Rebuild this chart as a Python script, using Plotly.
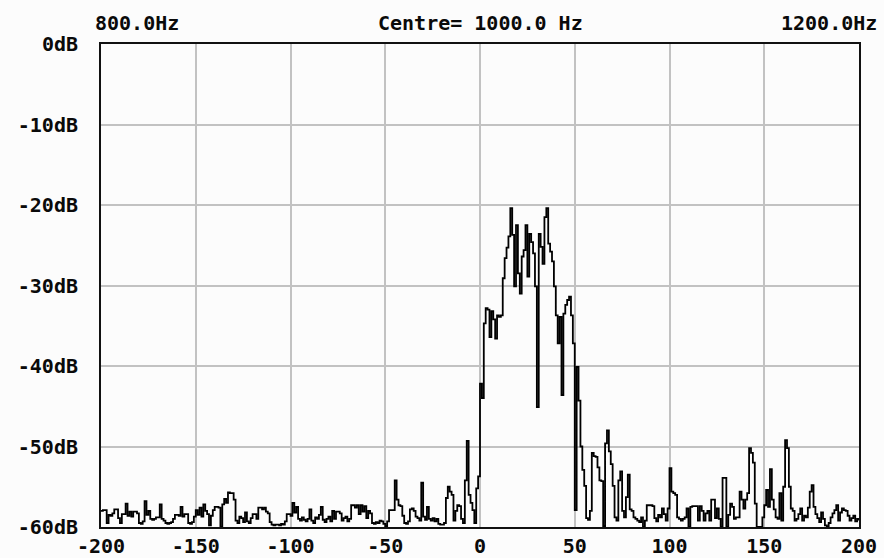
import plotly.graph_objects as go

# Frequency offsets from the 1000 Hz centre (1 Hz bins)
freq_offset_hz = list(range(-200, 201))

# Spectrum level (dB), by frequency range
level_db_m200_m101 = [
    -58.0, -57.9, -57.9, -59.5, -58.5, -58.6, -58.3, -57.8, -57.8, -58.9,
    -59.5, -58.4, -58.4, -57.1, -58.6, -58.1, -58.7, -58.1, -58.1, -58.3,
    -59.5, -59.6, -59.3, -56.8, -58.5, -58.0, -59.0, -59.1, -59.0, -58.8,
    -58.8, -57.2, -59.0, -59.2, -59.5, -59.6, -59.5, -59.4, -59.0, -58.5,
    -58.5, -58.6, -57.5, -58.7, -58.4, -58.4, -59.5, -59.6, -59.4, -58.7,
    -57.9, -58.5, -57.6, -58.7, -57.2, -58.0, -58.4, -59.8, -58.6, -57.9,
    -57.5, -57.5, -57.6, -60.0, -57.2, -56.5, -57.0, -55.7, -55.8, -55.8,
    -56.6, -59.2, -59.5, -58.7, -58.9, -59.4, -58.2, -59.3, -59.5, -58.9,
    -58.4, -58.4, -59.0, -57.6, -57.6, -57.8, -57.6, -58.1, -58.3, -59.4,
    -59.7, -59.8, -59.7, -59.7, -59.8, -59.6, -59.7, -59.3, -58.4, -58.4,
]
level_db_m100_m1 = [
    -58.6, -57.0, -58.2, -57.5, -59.0, -59.2, -58.8, -59.1, -59.3, -59.0,
    -57.8, -59.2, -59.5, -58.8, -59.0, -58.5, -57.5, -59.1, -59.4, -59.0,
    -58.7, -59.3, -58.0, -59.0, -58.1, -58.1, -58.3, -59.2, -58.9, -58.7,
    -59.3, -59.0, -57.3, -57.3, -57.6, -57.3, -58.4, -57.3, -58.1, -57.4,
    -58.9, -58.0, -58.3, -59.5, -59.6, -59.4, -59.5, -59.2, -59.3, -59.6,
    -59.9, -59.3, -57.9, -57.9, -57.9, -54.2, -56.6, -57.3, -57.4, -58.6,
    -59.5, -59.6, -59.3, -57.8, -57.7, -58.0, -58.7, -58.9, -59.2, -54.5,
    -58.7, -59.1, -57.5, -59.0, -59.2, -58.9, -59.3, -59.0, -59.6, -59.7,
    -59.7, -59.5, -56.4, -55.0, -55.6, -56.0, -59.2, -58.0, -57.3, -57.4,
    -59.0, -59.5, -54.2, -49.3, -56.0, -57.0, -57.9, -59.5, -55.2, -53.7,
]
level_db_0_99 = [
    -42.2, -44.0, -34.7, -32.8, -33.0, -36.4, -33.2, -34.2, -36.6, -33.7,
    -33.9, -33.7, -29.1, -26.6, -25.3, -23.9, -20.4, -23.7, -30.1, -22.5,
    -28.5, -31.0, -26.4, -25.6, -22.5, -28.9, -23.6, -24.6, -26.0, -30.1,
    -45.1, -23.6, -25.2, -27.3, -21.5, -20.4, -24.8, -25.8, -27.0, -30.1,
    -33.7, -37.2, -33.9, -43.6, -33.5, -32.4, -31.8, -31.4, -33.7, -37.2,
    -57.9, -40.1, -44.3, -50.0, -52.9, -54.9, -58.9, -59.1, -58.0, -50.8,
    -51.2, -51.3, -52.6, -54.2, -54.3, -59.9, -49.6, -48.0, -50.6, -52.2,
    -54.9, -58.8, -59.2, -54.2, -53.1, -58.0, -58.8, -56.3, -53.5, -57.8,
    -58.0, -58.8, -59.0, -59.2, -59.4, -58.8, -60.0, -59.2, -57.3, -57.3,
    -57.3, -57.4, -58.9, -59.3, -58.5, -58.8, -57.7, -58.4, -59.2, -57.7,
]
level_db_100_200 = [
    -52.7, -55.6, -55.8, -56.0, -58.8, -59.0, -59.2, -59.0, -58.8, -57.7,
    -60.0, -57.5, -57.4, -57.4, -57.4, -59.2, -57.4, -58.0, -59.2, -58.3,
    -58.0, -59.2, -56.6, -56.6, -58.9, -57.7, -59.0, -60.0, -53.9, -53.9,
    -60.0, -58.5, -57.1, -57.5, -59.0, -58.8, -58.8, -55.6, -56.6, -57.7,
    -56.6, -55.8, -50.2, -50.8, -52.0, -57.1, -60.0, -60.0, -60.0, -58.8,
    -57.3, -55.4, -57.5, -52.8, -56.6, -57.8, -58.8, -59.0, -55.8, -59.2,
    -55.0, -49.2, -50.2, -55.0, -57.7, -58.0, -59.2, -59.0, -58.4, -57.7,
    -59.2, -58.6, -58.8, -57.6, -55.6, -54.8, -57.5, -58.4, -58.9, -59.4,
    -58.2, -59.0, -59.8, -60.0, -59.5, -58.8, -58.3, -57.9, -57.3, -59.2,
    -58.2, -57.7, -57.9, -58.0, -58.6, -59.2, -58.9, -58.6, -59.3, -59.0,
    -59.2,
]
level_db = level_db_m200_m101 + level_db_m100_m1 + level_db_0_99 + level_db_100_200

x_tick_vals = [-200, -150, -100, -50, 0, 50, 100, 150, 200]
x_tick_text = ["-200", "-150", "-100", "-50", "0", "50", "100", "150", "200"]
y_tick_vals = [0, -10, -20, -30, -40, -50, -60]
y_tick_text = ["0dB", "-10dB", "-20dB", "-30dB", "-40dB", "-50dB", "-60dB"]

label_left = "800.0Hz"
label_centre = "Centre= 1000.0 Hz"
label_right = "1200.0Hz"

font_main = dict(family="DejaVu Sans Mono", size=20, color="#0a0a0a", weight="bold")

fig = go.Figure()
fig.add_trace(go.Scatter(
    x=freq_offset_hz, y=level_db, mode="lines",
    line=dict(color="#000000", width=1.8, shape="hv"),
    hoverinfo="skip",
))

axis_common = dict(
    showgrid=True, gridcolor="#c2c2c2", gridwidth=1.5,
    showline=True, linecolor="#111111", linewidth=2, mirror=True,
    zeroline=False, ticks="", tickfont=font_main, automargin=False,
)

fig.update_xaxes(range=[-200, 200], tickmode="array", tickvals=x_tick_vals,
                 ticktext=x_tick_text, ticklabelstandoff=0, **axis_common)
fig.update_yaxes(range=[-60, 0], tickmode="array", tickvals=y_tick_vals,
                 ticktext=y_tick_text, ticklabelstandoff=17, **axis_common)

# paper x: plot spans pixels 101..859 (758 px)
for txt, xv, anchor in [(label_left, (93 - 101) / 758, "left"),
                        (label_centre, (480 - 101) / 758, "center"),
                        (label_right, (879 - 101) / 758, "right")]:
    fig.add_annotation(text=txt, x=xv, xref="paper", y=1, yref="paper",
                       xanchor=anchor, yanchor="middle", yshift=21,
                       showarrow=False, font=font_main)

fig.update_layout(
    width=884, height=558,
    margin=dict(l=101, r=25, t=44, b=31),
    paper_bgcolor="#fcfcfc", plot_bgcolor="#fcfcfc",
    showlegend=False,
)

fig.write_html(
    "out.html",
    config={"displayModeBar": False},
    post_script="document.body.style.margin='0';document.body.style.overflow='hidden';",
)
